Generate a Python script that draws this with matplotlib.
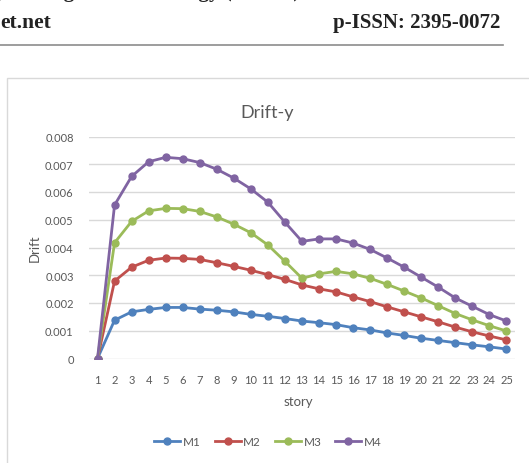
import numpy as np
import matplotlib
matplotlib.use("Agg")
import matplotlib.pyplot as plt
from matplotlib.patches import Rectangle
from matplotlib.ticker import FuncFormatter

# data
story = list(range(1, 26))
M1 = [0, 0.00138, 0.00168, 0.00177, 0.00184, 0.00184, 0.00178, 0.00174, 0.00168, 0.00159,
      0.00152, 0.00144, 0.00135, 0.00129, 0.00122, 0.00111, 0.00103, 0.00092, 0.00083, 0.00073,
      0.00065, 0.00057, 0.00049, 0.00042, 0.00034]
M2 = [0, 0.00279, 0.00329, 0.00354, 0.00362, 0.00361, 0.00357, 0.00345, 0.00332, 0.00318,
      0.00302, 0.00285, 0.00265, 0.00251, 0.00240, 0.00222, 0.00205, 0.00186, 0.00168, 0.00150,
      0.00132, 0.00113, 0.00096, 0.00081, 0.00067]
M3 = [0, 0.00417, 0.00494, 0.00532, 0.00541, 0.00540, 0.00530, 0.00510, 0.00484, 0.00453,
      0.00409, 0.00350, 0.00289, 0.00305, 0.00314, 0.00305, 0.00289, 0.00267, 0.00243, 0.00218,
      0.00190, 0.00162, 0.00139, 0.00118, 0.00099]
M4 = [0, 0.00553, 0.00656, 0.00709, 0.00725, 0.00720, 0.00706, 0.00682, 0.00650, 0.00611,
      0.00563, 0.00491, 0.00422, 0.00431, 0.00431, 0.00416, 0.00393, 0.00362, 0.00329, 0.00293,
      0.00257, 0.00218, 0.00188, 0.00158, 0.00135]
series = ["M1", "M2", "M3", "M4"]
colors = ["#4F81BD", "#C0504D", "#9BBB59", "#8064A2"]
yticks = [0, 0.001, 0.002, 0.003, 0.004, 0.005, 0.006, 0.007, 0.008]

W, H = 529, 464
fig = plt.figure(figsize=(W / 100, H / 100), dpi=100)
gray = "#595959"
font = "Lato"

# page header pieces (the first line is cut off by the crop, like in the paper scan)
fig.text(300 / W, 1 + 3.5 / H, "International Research Journal of Engineering and Technology (IRJET)",
         ha="right", va="baseline", fontsize=15, fontweight="bold", family="Liberation Serif", color="#222222")
fig.text(0, 1 - 28 / H, "et.net", ha="left", va="baseline", fontsize=15.5, fontweight="bold",
         family="Liberation Serif", color="#222222")
fig.text(500 / W, 1 - 28 / H, "p-ISSN: 2395-0072", ha="right", va="baseline", fontsize=15,
         fontweight="bold", family="Liberation Serif", color="#222222")
fig.add_artist(plt.Line2D([0, 503 / W], [1 - 46 / H, 1 - 46 / H], color="#8c8c8c", lw=1.2))

# chart area border
fig.add_artist(Rectangle((7 / W, -0.1), 1.0, 1 - 79 / H + 0.1, transform=fig.transFigure,
                         fill=False, edgecolor="#D9D9D9", lw=1))

ax = fig.add_axes([89 / W, 1 - 359.5 / H, 426 / W, 222 / H])
for name, vals, c in zip(series, [M1, M2, M3, M4], colors):
    ax.plot(story, vals, color=c, lw=2, marker="o", markersize=5, label=name)

ax.set_xlim(0.5, 25.5)
ax.set_ylim(0, 0.008)
ax.set_xticks(story)
ax.set_yticks(yticks)
ax.yaxis.set_major_formatter(FuncFormatter(lambda v, p: "0" if v == 0 else "%.3f" % v))
ax.grid(axis="y", color="#D9D9D9", lw=1)
ax.set_axisbelow(True)
for s in ax.spines.values():
    s.set_visible(False)
ax.tick_params(length=0, colors=gray, labelsize=8)
ax.tick_params(axis="y", pad=11)
ax.tick_params(axis="x", pad=11)
for lab in ax.get_xticklabels() + ax.get_yticklabels():
    lab.set_family(font)

fig.text(267 / W, 1 - 113 / H, "Drift-y", ha="center", va="center", fontsize=13, color=gray, family=font)
fig.text(35 / W, 1 - 248 / H, "Drift", ha="center", va="center", rotation=90, fontsize=9.5,
         color=gray, family=font)
fig.text(298 / W, 1 - 402 / H, "story", ha="center", va="center", fontsize=9.5, color=gray, family=font)

leg = fig.legend(loc="center", bbox_to_anchor=(268 / W, 1 - 443 / H), ncol=4, frameon=False,
                 handlelength=2.2, columnspacing=1.2, handletextpad=0.2,
                 prop={"family": font, "size": 8.5})
for t in leg.get_texts():
    t.set_color(gray)

fig.savefig("out.png", dpi=100)
